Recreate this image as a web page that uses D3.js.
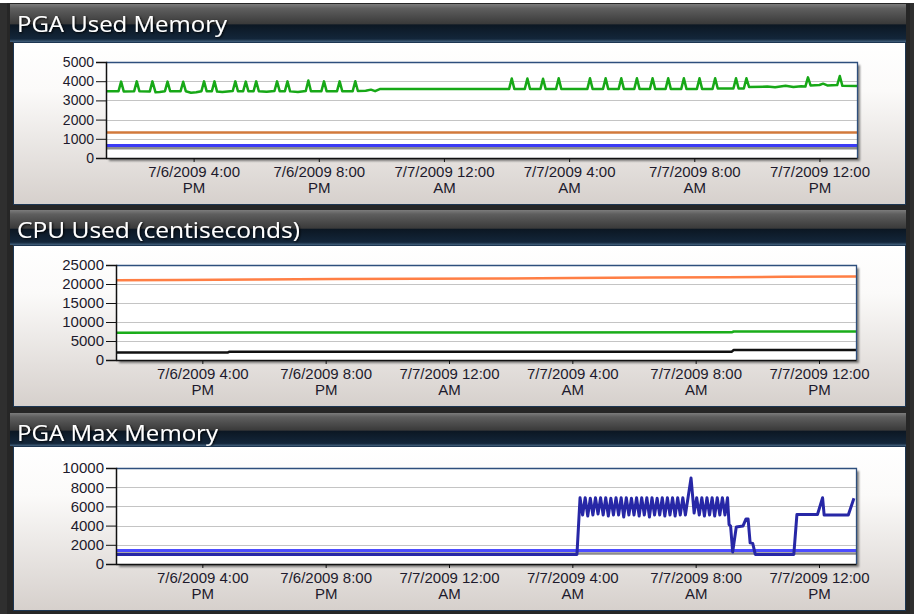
<!DOCTYPE html>
<html>
<head>
<meta charset="utf-8">
<script src="https://cdn.jsdelivr.net/npm/d3@7"></script>
<style>
  body { margin: 0; background: #fff; }
  svg { display: block; }
  .axis text { font-family: "Liberation Sans", Arial, sans-serif; fill: #1d1a2c; }
  .axis path, .axis line { stroke: #111; }
</style>
</head>
<body>
<div id="chart"></div>
<script>
// ---- data (times are "day HH:MM", July 2009) ----
var xTickTimes = ["6 16:00", "6 20:00", "7 00:00", "7 04:00", "7 08:00", "7 12:00"];
var usedTicks = [0, 1000, 2000, 3000, 4000, 5000];
var cpuTicks = [0, 5000, 10000, 15000, 20000, 25000];
var maxTicks = [0, 2000, 4000, 6000, 8000, 10000];

// PGA Used Memory
var usedGreen = [
  ["6 13:12",3480],["6 13:36",3480],["6 13:41",3980],["6 13:46",3470],
  ["6 14:06",3480],["6 14:11",3990],["6 14:16",3480],
  ["6 14:36",3470],["6 14:41",3990],["6 14:47",3420],["6 14:55",3440],["6 15:05",3480],
  ["6 15:10",3980],["6 15:15",3480],
  ["6 15:35",3480],["6 15:40",3970],["6 15:45",3480],["6 15:55",3400],["6 16:05",3420],["6 16:15",3480],
  ["6 16:20",3990],["6 16:25",3480],["6 16:35",3480],["6 16:40",3990],["6 16:45",3460],["6 16:55",3440],["6 17:15",3490],
  ["6 17:20",3990],["6 17:25",3480],["6 17:35",3480],["6 17:40",3980],["6 17:45",3480],["6 17:55",3480],
  ["6 18:00",3990],["6 18:05",3480],["6 18:20",3450],["6 18:35",3490],
  ["6 18:40",3990],["6 18:45",3480],["6 18:55",3480],["6 19:00",3990],["6 19:05",3470],["6 19:20",3440],["6 19:35",3490],
  ["6 19:40",4040],["6 19:45",3480],["6 20:05",3480],["6 20:10",3990],["6 20:15",3480],
  ["6 20:35",3480],["6 20:40",3990],["6 20:45",3480],["6 21:05",3480],["6 21:10",4000],["6 21:15",3490],
  ["6 21:30",3500],["6 21:40",3560],["6 21:48",3480],["6 21:58",3600],
  ["7 02:05",3600],["7 02:10",4140],["7 02:15",3600],
  ["7 02:35",3600],["7 02:40",4140],["7 02:45",3600],
  ["7 03:05",3600],["7 03:10",4130],["7 03:15",3600],
  ["7 03:35",3600],["7 03:40",4150],["7 03:45",3600],
  ["7 04:35",3600],["7 04:40",4150],["7 04:45",3600],
  ["7 05:05",3600],["7 05:10",4150],["7 05:15",3600],
  ["7 05:35",3600],["7 05:40",4150],["7 05:45",3600],
  ["7 06:05",3600],["7 06:10",4150],["7 06:15",3600],
  ["7 06:35",3600],["7 06:40",4150],["7 06:45",3600],
  ["7 07:05",3600],["7 07:10",4150],["7 07:15",3600],
  ["7 07:35",3600],["7 07:40",4150],["7 07:45",3600],
  ["7 08:05",3600],["7 08:10",4150],["7 08:15",3600],
  ["7 08:35",3600],["7 08:40",4150],["7 08:45",3620],
  ["7 09:15",3620],["7 09:20",4150],["7 09:25",3620],["7 09:35",3620],["7 09:40",4150],["7 09:45",3700],
  ["7 10:20",3720],["7 10:35",3690],["7 10:55",3760],["7 11:10",3700],["7 11:25",3740],["7 11:33",3720],
  ["7 11:38",4200],["7 11:43",3780],["7 12:00",3800],["7 12:07",3870],["7 12:15",3780],["7 12:34",3800],
  ["7 12:39",4270],["7 12:44",3760],["7 13:12",3750]
];
var usedOrange = [["6 13:12",1330],["7 13:12",1330]];
var usedGray = [["6 13:12",510],["7 13:12",510]];
var usedBlue = [["6 13:12",650],["7 13:12",650]];

// CPU Used (centiseconds)
var cpuOrange = [
  ["6 13:12",21000],["6 15:10",21050],["6 17:50",21200],["6 20:20",21300],["7 01:40",21450],
  ["7 04:00",21550],["7 06:30",21700],["7 09:00",21800],["7 10:50",21900],["7 13:12",22000]
];
var cpuGreen = [["6 13:12",7200],["6 19:50",7250],["7 09:10",7280],["7 09:14",7500],["7 13:12",7520]];
var cpuBlack = [["6 13:12",2000],["6 16:50",2000],["6 16:52",2150],["7 09:10",2200],["7 09:14",2600],["7 13:12",2650]];

// PGA Max Memory
var maxLight = [["6 13:12",1400],["7 13:12",1400]];
var maxGray = [["6 13:12",1100],["7 13:12",1100]];
var maxNavy = [
  ["6 13:12",1000],["7 04:09",1000],
  ["7 04:15",6900],["7 04:20",5100],["7 04:25",6900],["7 04:30",5000],["7 04:35",6850],["7 04:40",5100],
  ["7 04:45",6900],["7 04:50",5200],["7 04:55",6900],["7 05:00",5100],["7 05:05",6900],["7 05:10",5000],
  ["7 05:15",6850],["7 05:20",5100],["7 05:25",6900],["7 05:30",5100],["7 05:35",6900],["7 05:40",4900],
  ["7 05:45",6900],["7 05:50",5100],["7 05:55",6850],["7 06:00",5100],["7 06:05",6900],["7 06:10",5000],
  ["7 06:15",6900],["7 06:20",5100],["7 06:25",6900],["7 06:30",4900],["7 06:35",6900],["7 06:40",5100],
  ["7 06:45",6850],["7 06:50",5100],["7 06:55",6900],["7 07:00",5000],["7 07:05",6900],["7 07:10",5100],
  ["7 07:15",6900],["7 07:20",5000],["7 07:25",6900],["7 07:30",5100],["7 07:35",6900],["7 07:40",5100],
  ["7 07:51",8950],["7 07:57",5300],
  ["7 08:02",6900],["7 08:07",5100],["7 08:12",6900],["7 08:17",5000],["7 08:22",6900],["7 08:27",5100],
  ["7 08:32",6900],["7 08:37",5000],["7 08:42",6900],["7 08:47",5100],["7 08:52",6900],["7 08:57",5100],
  ["7 09:02",6900],
  ["7 09:05",4100],["7 09:08",3950],["7 09:12",1250],["7 09:19",3850],["7 09:32",3950],["7 09:38",4700],
  ["7 09:42",4700],["7 09:46",2200],["7 09:51",2150],["7 09:56",1000],["7 11:11",1000],["7 11:17",5150],
  ["7 11:57",5150],["7 12:07",6900],["7 12:10",5100],["7 12:57",5100],["7 13:08",6850]
];

// ---- drawing ----
var parseTime = function(s) { return d3.timeParse("%Y-%m-%d %H:%M")("2009-07-0" + s); };
function toPoints(arr) { return arr.map(function(d) { return { t: parseTime(d[0]), v: d[1] }; }); }

var panels = [
  { title: "PGA Used Memory", titleW: 210, top: 4, bodyTop: 42, bodyBottom: 205,
    plot: { l: 106, r: 857, t: 62, b: 158 }, ticks: usedTicks, yFont: 14,
    series: [
      { data: usedOrange, color: "#d27a3c", w: 2.5 },
      { data: usedGray, color: "#8c8c8c", w: 2.5 },
      { data: usedBlue, color: "#3b3bf5", w: 3 },
      { data: usedGreen, color: "#17a817", w: 2.5 }
    ] },
  { title: "CPU Used (centiseconds)", titleW: 283, top: 210, bodyTop: 245, bodyBottom: 407,
    plot: { l: 116, r: 856, t: 265, b: 360 }, ticks: cpuTicks, yFont: 15,
    series: [
      { data: cpuOrange, color: "#ff7f45", w: 2.5 },
      { data: cpuGreen, color: "#1aad1a", w: 2.5 },
      { data: cpuBlack, color: "#111111", w: 2.5 }
    ] },
  { title: "PGA Max Memory", titleW: 201, top: 413, bodyTop: 446, bodyBottom: 611,
    plot: { l: 116, r: 856, t: 468, b: 564 }, ticks: maxTicks, yFont: 15,
    series: [
      { data: maxGray, color: "#8c8c8c", w: 2.5 },
      { data: maxLight, color: "#4c4cff", w: 3 },
      { data: maxNavy, color: "#2727a6", w: 3 }
    ] }
];

var svg = d3.select("#chart").append("svg")
    .attr("width", 914)
    .attr("height", 614);
var defs = svg.append("defs");

function vGrad(id, stops) {
  var g = defs.append("linearGradient").attr("id", id)
      .attr("x1", 0).attr("y1", 0).attr("x2", 0).attr("y2", 1);
  stops.forEach(function(s) {
    g.append("stop").attr("offset", s[0]).attr("stop-color", s[1]);
  });
}
vGrad("titleGrad", [[0, "#7c7c7c"], [0.12, "#5e5e5e"], [0.52, "#3a3a3a"], [0.55, "#0c1723"],
                    [0.92, "#13263a"], [1, "#44627f"]]);
vGrad("bodyGrad", [[0, "#ffffff"], [0.3, "#fbfaf9"], [1, "#d6d0cc"]]);

var blur = defs.append("filter").attr("id", "shadowBlur");
blur.append("feGaussianBlur").attr("stdDeviation", 1.2);
var txtShadow = defs.append("filter").attr("id", "txtShadow")
    .attr("x", "-5%").attr("y", "-30%").attr("width", "110%").attr("height", "160%");
txtShadow.append("feDropShadow").attr("dx", 1).attr("dy", 1)
    .attr("stdDeviation", 1).attr("flood-color", "#000").attr("flood-opacity", 0.9);

// outer frame
svg.append("rect").attr("x", 0).attr("y", 3).attr("width", 914).attr("height", 611).attr("fill", "#2f2f2f");
svg.append("rect").attr("x", 7).attr("y", 3).attr("width", 903).attr("height", 611).attr("fill", "#262626");

var xTicks = xTickTimes.map(parseTime);
var fmtTop = d3.timeFormat("%-m/%-d/%Y %-I:%M");
var fmtBottom = d3.timeFormat("%p");

panels.forEach(function(p) {
  var g = svg.append("g");

  // title bar
  g.append("rect")
      .attr("x", 10).attr("y", p.top)
      .attr("width", 896).attr("height", p.bodyTop - p.top)
      .attr("fill", "url(#titleGrad)");
  g.append("text")
      .attr("x", 17).attr("y", p.top + 28)
      .attr("filter", "url(#txtShadow)")
      .attr("textLength", p.titleW)
      .attr("lengthAdjust", "spacingAndGlyphs")
      .style("font-family", "'Open Sans', 'Noto Sans', sans-serif")
      .style("font-size", "22px")
      .style("fill", "#fff")
      .text(p.title);

  // body
  g.append("rect")
      .attr("x", 13.5).attr("y", p.bodyTop + 0.5)
      .attr("width", 892).attr("height", p.bodyBottom - p.bodyTop - 1)
      .attr("fill", "url(#bodyGrad)")
      .attr("stroke", "#1d3652");

  var pl = p.plot;
  var x = d3.scaleTime()
      .domain([parseTime("6 13:12"), parseTime("7 13:12")])
      .range([pl.l, pl.r]);
  var y = d3.scaleLinear()
      .domain([0, d3.max(p.ticks)])
      .range([pl.b, pl.t]);

  // plot shadow + background
  g.append("rect")
      .attr("x", pl.l + 3).attr("y", pl.t + 3)
      .attr("width", pl.r - pl.l).attr("height", pl.b - pl.t)
      .attr("fill", "#555").attr("opacity", 0.75)
      .attr("filter", "url(#shadowBlur)");
  g.append("rect")
      .attr("x", pl.l).attr("y", pl.t)
      .attr("width", pl.r - pl.l).attr("height", pl.b - pl.t)
      .attr("fill", "#fff");

  // grid lines
  g.append("g").selectAll("line")
      .data(p.ticks.slice(1, -1))
      .enter().append("line")
      .attr("x1", pl.l).attr("x2", pl.r)
      .attr("y1", function(d) { return Math.round(y(d)) + 0.5; })
      .attr("y2", function(d) { return Math.round(y(d)) + 0.5; })
      .attr("stroke", "#c4c4c4").attr("stroke-width", 1.2);

  // series
  var line = d3.line()
      .x(function(d) { return x(d.t); })
      .y(function(d) { return y(d.v); });
  p.series.forEach(function(s) {
    g.append("path")
        .datum(toPoints(s.data))
        .attr("d", line)
        .attr("fill", "none")
        .attr("stroke", s.color)
        .attr("stroke-width", s.w)
        .attr("stroke-linejoin", "round");
  });

  // plot border (top/right)
  g.append("path")
      .attr("d", "M" + pl.l + "," + (pl.t + 0.5) + "H" + (pl.r + 0.5) + "V" + pl.b)
      .attr("fill", "none").attr("stroke", "#2e4f7d").attr("stroke-width", 1.3);

  // y axis
  var yAxis = g.append("g")
      .attr("class", "axis")
      .attr("transform", "translate(" + pl.l + ",0)")
      .call(d3.axisLeft(y).tickValues(p.ticks).tickSize(10).tickPadding(2).tickFormat(d3.format("d")));
  yAxis.selectAll("text").style("font-size", p.yFont + "px");
  yAxis.select(".domain").attr("stroke-width", 1.5);

  // x axis
  var xAxis = g.append("g")
      .attr("class", "axis")
      .attr("transform", "translate(0," + pl.b + ")")
      .call(d3.axisBottom(x).tickValues(xTicks).tickSize(4).tickSizeOuter(0).tickFormat(""));
  xAxis.select(".domain").attr("stroke-width", 1.5);
  xAxis.selectAll(".tick").each(function(d) {
    var t = d3.select(this).append("text")
        .attr("text-anchor", "middle")
        .style("font-size", "15px");
    t.append("tspan").attr("x", 0).attr("y", 18.5).text(fmtTop(d));
    t.append("tspan").attr("x", 0).attr("y", 34.5).text(fmtBottom(d));
  });
});
</script>
</body>
</html>
